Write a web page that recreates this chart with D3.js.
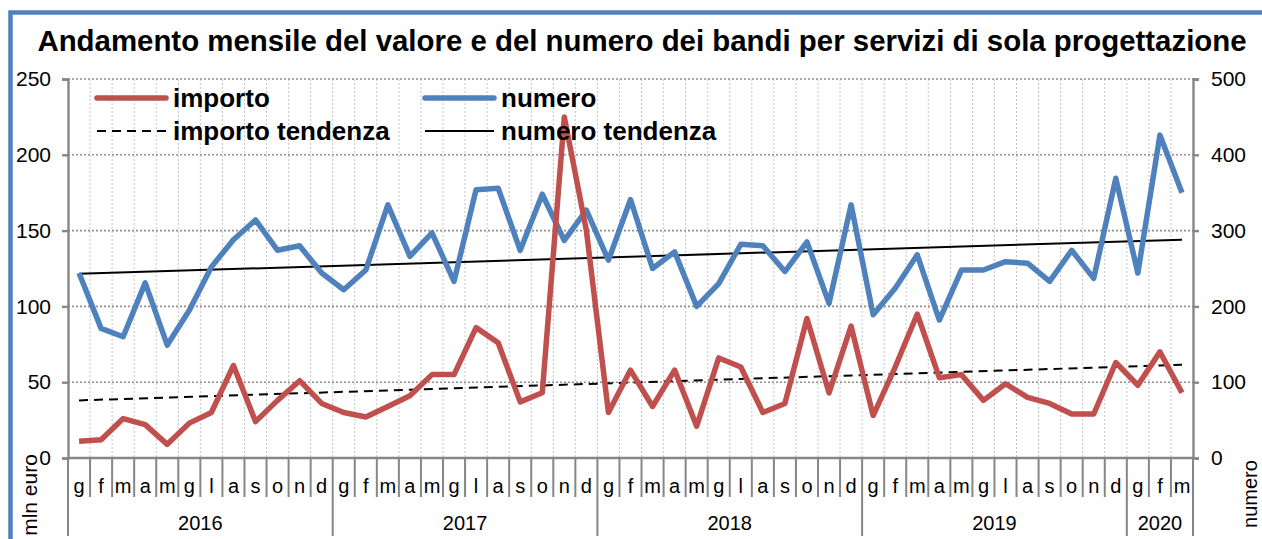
<!DOCTYPE html>
<html>
<head>
<meta charset="utf-8">
<script src="https://cdn.jsdelivr.net/npm/d3@7"></script>
<style>
  body { margin: 0; background: #fff; }
  svg { display: block; font-family: "Liberation Sans", Arial, sans-serif; }
</style>
</head>
<body>
<svg id="chart"></svg>
<script>
// months g f m a m g l a s o n d, Jan 2016 - Mar 2020
const monthLabels = ["g","f","m","a","m","g","l","a","s","o","n","d",
  "g","f","m","a","m","g","l","a","s","o","n","d",
  "g","f","m","a","m","g","l","a","s","o","n","d",
  "g","f","m","a","m","g","l","a","s","o","n","d",
  "g","f","m"];
const years = ["2016","2017","2018","2019","2020"];
const monthsPerYear = [12, 12, 12, 12, 3];

// mln euro (left axis)
const importo = [11, 12, 26, 22, 9, 23, 30, 61, 24, 38, 51, 36,
  30, 27, 34, 41, 55, 55, 86, 76, 37, 43, 225, 150,
  30, 58, 34, 58, 21, 66, 60, 30, 36, 92, 43, 87,
  28, 60, 95, 53, 55, 38, 49, 40, 36, 29, 29, 63,
  48, 70, 43];
// numero bandi (right axis)
const numero = [244, 171, 160, 231, 149, 195, 252, 288, 314, 274, 280, 244,
  222, 248, 334, 266, 297, 233, 354, 356, 274, 348, 287, 327,
  261, 341, 250, 272, 200, 230, 282, 280, 246, 285, 204, 334,
  189, 224, 268, 182, 248, 248, 259, 257, 233, 274, 237, 369,
  244, 426, 350];
// trend lines: value at first and last month
const importoTrend = [38, 61.5];
const numeroTrend = [243, 288];

const leftTicks = [0, 50, 100, 150, 200, 250];
const rightTicks = [0, 100, 200, 300, 400, 500];

const W = 1262, H = 539;
const plot = { left: 68, right: 1193, top: 79, bottom: 458 };
const red = "#C0504D", blue = "#4F81BD", axisGray = "#868686";

const svg = d3.select("#chart").attr("width", W).attr("height", H);

// outer frame
svg.append("rect")
  .attr("x", 10.5).attr("y", 12.5)
  .attr("width", W + 20).attr("height", H + 20)
  .attr("fill", "none").attr("stroke", blue).attr("stroke-width", 4.5);

const x = d3.scaleBand()
  .domain(d3.range(monthLabels.length))
  .range([plot.left, plot.right]);
const yL = d3.scaleLinear().domain([0, 250]).range([plot.bottom, plot.top]);
const yR = d3.scaleLinear().domain([0, 500]).range([plot.bottom, plot.top]);
const cx = i => x(i) + x.bandwidth() / 2;

// title
const title = svg.append("text")
  .attr("x", 642).attr("y", 51)
  .attr("text-anchor", "middle")
  .style("font-weight", "bold").style("font-size", "26px")
  .text("Andamento mensile del valore e del numero dei bandi per servizi di sola progettazione");
const tw = title.node().getComputedTextLength();
title.style("font-size", (26 * 1210 / tw) + "px");

// vertical grid (category boundaries)
svg.append("g").selectAll("line")
  .data(d3.range(1, monthLabels.length))
  .join("line")
  .attr("x1", d => x(d)).attr("x2", d => x(d))
  .attr("y1", plot.top).attr("y2", plot.bottom)
  .attr("stroke", "#c4c4c4").attr("stroke-width", 1)
  .attr("stroke-dasharray", "2,2");

// horizontal grid
svg.append("g").selectAll("line")
  .data(leftTicks.filter(d => d > 0))
  .join("line")
  .attr("x1", plot.left).attr("x2", plot.right)
  .attr("y1", d => yL(d)).attr("y2", d => yL(d))
  .attr("stroke", "#8f8f8f").attr("stroke-width", 1.6)
  .attr("stroke-dasharray", "2,2");

// left axis
const gL = svg.append("g").attr("transform", `translate(${plot.left},0)`)
  .call(d3.axisLeft(yL).tickValues(leftTicks).tickSize(6).tickPadding(11));
// right axis
const gR = svg.append("g").attr("transform", `translate(${plot.right},0)`)
  .call(d3.axisRight(yR).tickValues(rightTicks).tickSize(6).tickPadding(12));
[gL, gR].forEach(g => {
  g.select(".domain").attr("stroke", axisGray).attr("stroke-width", 2.4);
  g.selectAll(".tick line").attr("stroke", axisGray).attr("stroke-width", 2.4);
  g.selectAll(".tick text").style("font-size", "21px").attr("fill", "#000")
    .style("font-family", "Liberation Sans, Arial, sans-serif");
});

// bottom axis with category separators
svg.append("line")
  .attr("x1", plot.left).attr("x2", plot.right)
  .attr("y1", plot.bottom).attr("y2", plot.bottom)
  .attr("stroke", axisGray).attr("stroke-width", 2.4);
svg.append("g").selectAll("line")
  .data(d3.range(0, monthLabels.length + 1))
  .join("line")
  .attr("x1", d => d < monthLabels.length ? x(d) : plot.right)
  .attr("x2", d => d < monthLabels.length ? x(d) : plot.right)
  .attr("y1", plot.bottom).attr("y2", 497)
  .attr("stroke", axisGray).attr("stroke-width", 2);

svg.append("g").selectAll("text")
  .data(monthLabels)
  .join("text")
  .attr("x", (d, i) => cx(i)).attr("y", 493)
  .attr("text-anchor", "middle").style("font-size", "20px")
  .text(d => d);

// year groups
const yearStart = d3.cumsum([0, ...monthsPerYear]);
svg.append("g").selectAll("line")
  .data(yearStart)
  .join("line")
  .attr("x1", d => d < monthLabels.length ? x(d) : plot.right)
  .attr("x2", d => d < monthLabels.length ? x(d) : plot.right)
  .attr("y1", 497).attr("y2", 536)
  .attr("stroke", axisGray).attr("stroke-width", 2);
svg.append("g").selectAll("text")
  .data(years)
  .join("text")
  .attr("x", (d, i) => {
    const a = x(yearStart[i]);
    const b = yearStart[i + 1] < monthLabels.length ? x(yearStart[i + 1]) : plot.right;
    return (a + b) / 2;
  })
  .attr("y", 530)
  .attr("text-anchor", "middle").style("font-size", "20px")
  .text(d => d);

// axis titles
svg.append("text")
  .attr("transform", "translate(37,495) rotate(-90)")
  .attr("text-anchor", "middle").style("font-size", "21px")
  .text("mln euro");
svg.append("text")
  .attr("transform", "translate(1257,494) rotate(-90)")
  .attr("text-anchor", "middle").style("font-size", "20px")
  .text("numero");

// trend lines
const last = monthLabels.length - 1;
svg.append("line")
  .attr("x1", cx(0)).attr("x2", cx(last))
  .attr("y1", yR(numeroTrend[0])).attr("y2", yR(numeroTrend[1]))
  .attr("stroke", "#000").attr("stroke-width", 2);
svg.append("line")
  .attr("x1", cx(0)).attr("x2", cx(last))
  .attr("y1", yL(importoTrend[0])).attr("y2", yL(importoTrend[1]))
  .attr("stroke", "#000").attr("stroke-width", 2)
  .attr("stroke-dasharray", "9,6");

// data lines
const lineL = d3.line().x((d, i) => cx(i)).y(d => yL(d));
const lineR = d3.line().x((d, i) => cx(i)).y(d => yR(d));
svg.append("path").datum(numero)
  .attr("d", lineR).attr("fill", "none")
  .attr("stroke", blue).attr("stroke-width", 5.5)
  .attr("stroke-linejoin", "round");
svg.append("path").datum(importo)
  .attr("d", lineL).attr("fill", "none")
  .attr("stroke", red).attr("stroke-width", 5.5)
  .attr("stroke-linejoin", "round");

// legend
const legend = [
  { label: "importo", x: 97, y: 98, color: red, w: 5.5, dash: null },
  { label: "importo tendenza", x: 97, y: 131, color: "#000", w: 2, dash: "9,6" },
  { label: "numero", x: 425, y: 98, color: blue, w: 5.5, dash: null },
  { label: "numero tendenza", x: 425, y: 131, color: "#000", w: 2, dash: null }
];
const lg = svg.append("g").selectAll("g").data(legend).join("g");
lg.append("line")
  .attr("x1", d => d.x).attr("x2", d => d.x + 69)
  .attr("y1", d => d.y).attr("y2", d => d.y)
  .attr("stroke", d => d.color).attr("stroke-width", d => d.w)
  .attr("stroke-linecap", d => d.w > 3 ? "round" : "butt")
  .attr("stroke-dasharray", d => d.dash);
lg.append("text")
  .attr("x", d => d.x + 76).attr("y", d => d.y + 9)
  .style("font-weight", "bold").style("font-size", "26px")
  .text(d => d.label);
</script>
</body>
</html>
